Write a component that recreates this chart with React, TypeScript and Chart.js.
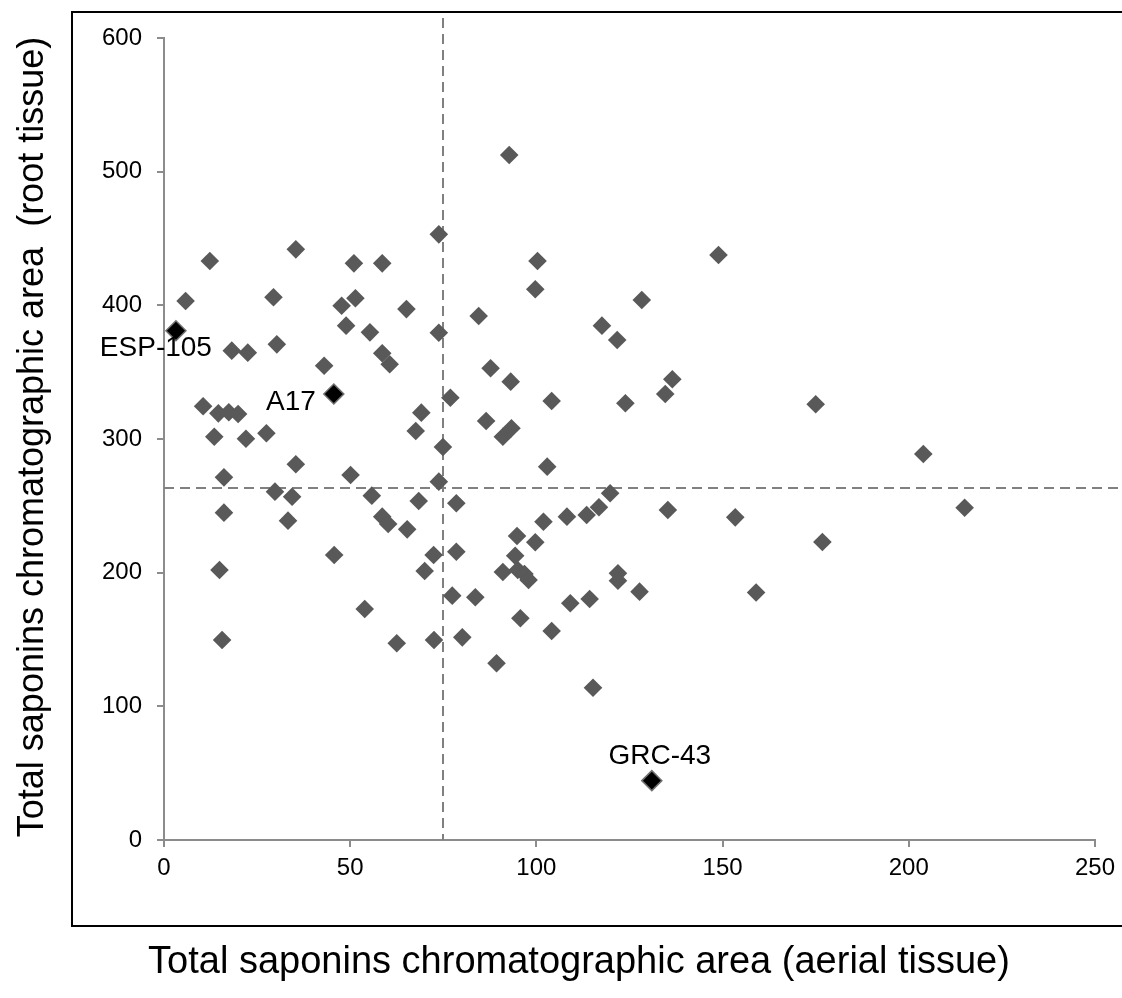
import { useEffect, useRef } from 'react';
import { Chart, registerables } from 'chart.js';

Chart.register(...registerables);

// Aerial tissue (x) and root tissue (y) total saponins chromatographic areas
const aerialArea = [
  12.3, 5.8, 35.4, 29.4, 30.3, 18.2, 22.5, 51.0, 58.6, 47.7,
  51.4, 65.1, 48.9, 55.3, 58.6, 60.6, 43.0, 73.8, 73.8, 76.9,
  69.1, 67.6, 10.5, 14.6, 17.4, 19.9, 13.5, 22.0, 27.5, 74.9,
  16.1, 35.4, 50.1, 29.8, 34.4, 73.8, 55.8, 68.4, 78.5, 16.1,
  33.3, 58.6, 60.2, 65.3, 45.7, 72.4, 70.0, 78.5, 14.9, 53.9,
  77.4, 15.6, 62.5, 72.5, 80.1, 92.7, 100.3, 148.9, 99.7, 128.3,
  84.5, 117.6, 121.7, 87.7, 93.1, 136.5, 134.6, 104.1, 123.9, 86.5,
  91.0, 93.3, 102.9, 119.8, 116.8, 113.5, 108.2, 101.9, 135.3, 153.4,
  94.8, 99.7, 94.3, 91.0, 95.0, 96.8, 97.9, 121.9, 121.9, 127.7,
  159.0, 83.6, 109.1, 114.3, 95.7, 104.1, 89.3, 115.2, 175.0, 203.9,
  215.0, 176.8,
];
const rootArea = [
  433.2, 403.2, 441.9, 406.0, 370.8, 366.1, 364.6, 431.4, 431.4, 399.7,
  405.3, 397.2, 384.8, 379.8, 364.1, 355.9, 354.8, 453.1, 379.5, 330.9,
  319.7, 306.0, 324.5, 319.2, 320.0, 318.7, 301.7, 300.2, 304.3, 294.0,
  271.3, 281.1, 273.1, 260.6, 256.8, 268.1, 257.6, 253.6, 251.9, 244.9,
  238.9, 241.9, 236.4, 232.4, 213.2, 213.2, 201.2, 215.7, 202.0, 172.8,
  182.8, 149.6, 147.2, 149.6, 151.6, 512.5, 433.2, 437.6, 412.0, 404.0,
  392.0, 384.8, 374.1, 352.9, 342.9, 344.7, 333.7, 328.4, 326.7, 313.5,
  301.7, 308.0, 279.3, 259.4, 248.9, 243.1, 241.9, 238.1, 246.9, 241.4,
  227.4, 222.7, 212.7, 200.5, 202.0, 199.0, 194.5, 199.5, 194.0, 185.8,
  185.2, 181.6, 177.1, 180.3, 165.9, 156.4, 132.2, 113.9, 326.0, 288.8,
  248.6, 222.9,
];

// Highlighted accessions
const highlightNames = ['ESP-105', 'A17', 'GRC-43'];
const highlightAerial = [3.2, 45.6, 131.0];
const highlightRoot = [381.0, 333.7, 44.4];

// Reference (mean) lines
const aerialMean = 75;
const rootMean = 263;

// Axis ranges / ticks
const xTickValues = [0, 50, 100, 150, 200, 250];
const yTickValues = [0, 100, 200, 300, 400, 500, 600];

const xTitle = 'Total saponins chromatographic area (aerial tissue)';
const yTitle = 'Total saponins chromatographic area  (root tissue)';

const FONT = '"Liberation Sans", Arial, Helvetica, sans-serif';
const AXIS_COLOR = '#8c8c8c';
const MARK_COLOR = '#595959';

const labelOffsets: Record<string, { dx: number; dy: number; align: CanvasTextAlign }> = {
  'ESP-105': { dx: 36, dy: 18, align: 'right' },
  'A17': { dx: -18, dy: 8, align: 'right' },
  'GRC-43': { dx: 8, dy: -24, align: 'center' },
};

const decorPlugin = {
  id: 'decor',
  beforeDatasetsDraw(chart: any) {
    const { ctx, scales, width } = chart;
    const xs = scales.x;
    const ys = scales.y;
    ctx.save();
    ctx.strokeStyle = '#808080';
    ctx.lineWidth = 2;
    ctx.setLineDash([10, 6]);
    const vx = Math.round(xs.getPixelForValue(aerialMean));
    ctx.beginPath();
    ctx.moveTo(vx, 18);
    ctx.lineTo(vx, ys.bottom);
    ctx.stroke();
    const hy = Math.round(ys.getPixelForValue(rootMean));
    ctx.beginPath();
    ctx.moveTo(xs.left, hy);
    ctx.lineTo(width, hy);
    ctx.stroke();
    ctx.restore();
  },
  afterDraw(chart: any) {
    const { ctx, scales, width } = chart;
    const xs = scales.x;
    const ys = scales.y;
    ctx.save();
    // outer box
    ctx.strokeStyle = '#000';
    ctx.lineWidth = 2;
    ctx.beginPath();
    ctx.moveTo(width + 5, 12);
    ctx.lineTo(72, 12);
    ctx.lineTo(72, 926);
    ctx.lineTo(width + 5, 926);
    ctx.stroke();

    // axis titles
    ctx.fillStyle = '#000';
    ctx.textAlign = 'center';
    ctx.textBaseline = 'middle';
    ctx.font = `38px ${FONT}`;
    ctx.fillText(xTitle, 579, 963);
    ctx.font = `36px ${FONT}`;
    ctx.save();
    ctx.translate(33, 437);
    ctx.rotate(-Math.PI / 2);
    ctx.fillText(yTitle, 0, 0);
    ctx.restore();

    // point labels
    ctx.font = `28px ${FONT}`;
    highlightNames.forEach((name, i) => {
      const o = labelOffsets[name];
      const px = xs.getPixelForValue(highlightAerial[i]);
      const py = ys.getPixelForValue(highlightRoot[i]);
      ctx.textAlign = o.align;
      ctx.fillText(name, px + o.dx, py + o.dy);
    });
    ctx.restore();
  },
};

export default function App() {
  const ref = useRef<HTMLCanvasElement | null>(null);
  useEffect(() => {
    if (!ref.current) return;
    const chart = new Chart(ref.current, {
      type: 'scatter',
      data: {
        datasets: [
          {
            label: 'Accessions',
            data: aerialArea.map((x, i) => ({ x, y: rootArea[i] })),
            pointStyle: 'rectRot',
            pointRadius: 9.3,
            pointBackgroundColor: MARK_COLOR,
            pointBorderColor: MARK_COLOR,
            pointBorderWidth: 0,
          },
          {
            label: 'Highlighted',
            data: highlightAerial.map((x, i) => ({ x, y: highlightRoot[i] })),
            pointStyle: 'rectRot',
            pointRadius: 10,
            pointBackgroundColor: '#000',
            pointBorderColor: '#707070',
            pointBorderWidth: 1.5,
          },
        ],
      },
      options: {
        responsive: false,
        animation: false,
        devicePixelRatio: 1,
        layout: { padding: { left: 0, right: 26, top: 38, bottom: 0 } },
        plugins: {
          legend: { display: false },
          tooltip: { enabled: false },
          title: { display: false },
        },
        scales: {
          x: {
            type: 'linear',
            min: xTickValues[0],
            max: xTickValues[xTickValues.length - 1],
            afterBuildTicks: (s: any) => {
              s.ticks = xTickValues.map((v) => ({ value: v }));
            },
            afterFit: (s: any) => {
              s.height = 158;
            },
            ticks: {
              font: { family: FONT, size: 24 },
              color: '#000',
              padding: 7,
              maxRotation: 0,
            },
            grid: {
              drawOnChartArea: false,
              drawTicks: true,
              tickLength: 7,
              color: AXIS_COLOR,
              lineWidth: 2,
            },
            border: { display: true, color: AXIS_COLOR, width: 2 },
            title: { display: false },
          },
          y: {
            type: 'linear',
            min: yTickValues[0],
            max: yTickValues[yTickValues.length - 1],
            afterBuildTicks: (s: any) => {
              s.ticks = yTickValues.map((v) => ({ value: v }));
            },
            afterFit: (s: any) => {
              s.width = 164;
            },
            ticks: {
              font: { family: FONT, size: 24 },
              color: '#000',
              padding: 15,
            },
            grid: {
              drawOnChartArea: false,
              drawTicks: true,
              tickLength: 7,
              color: AXIS_COLOR,
              lineWidth: 2,
            },
            border: { display: true, color: AXIS_COLOR, width: 2 },
            title: { display: false },
          },
        },
      },
      plugins: [decorPlugin],
    });
    return () => chart.destroy();
  }, []);

  return (
    <div style={{ position: 'absolute', left: 0, top: 0, width: 1122, height: 998, background: '#fff' }}>
      <canvas ref={ref} width={1122} height={998} style={{ display: 'block' }} />
    </div>
  );
}
